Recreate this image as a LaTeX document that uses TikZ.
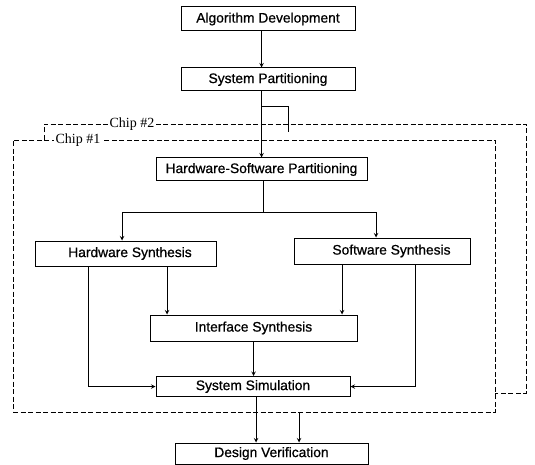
\documentclass[tikz,border=0pt]{standalone}
\usepackage{fontspec}
\usepackage{tikz}
\usetikzlibrary{arrows, positioning}
\newfontfamily\boxfont[BoldFont={Liberation Sans}, BoldFeatures={FakeBold=0.7}]{Liberation Sans}
\newfontfamily\chipfont{Liberation Serif}

\begin{document}
\begin{tikzpicture}[x=1pt, y=-1pt]
		\tikzstyle{StepName} = [rectangle, inner sep=0pt, text centered, draw=black, line width=1pt, fill=white, font=\boxfont\bfseries\fontsize{13.8}{16}\selectfont]
		\tikzstyle{ChipFrame} = [rectangle, draw=black, line width=0.9pt, dash pattern=on 5pt off 2.5pt]
		\tikzstyle{ChipName} = [fill=white, inner sep=1.5pt, font=\chipfont\fontsize{14}{16}\selectfont]
		\tikzstyle{arrow} = [line width=1pt,->,>=stealth]
		\tikzstyle{line} = [line width=1pt]
		
		\useasboundingbox (0,0) rectangle (535,465);
		
		% the two chips
		\draw[ChipFrame] (44,140) -- (44,124) -- (526,124) -- (526,393) -- (495,393);
		\node (chipOne) [ChipFrame, minimum width=482pt, minimum height=272pt] at (254,276) {};
		\node (chipTwoName) [ChipName] at (132,124) {Chip \#2};
		\node (chipOneName) [ChipName] at (78,140) {Chip \#1};
		
		\node (algDev) [StepName, minimum width=174pt, minimum height=24pt] at (268,19) {Algorithm Development};
		\node (sysPart) [StepName, minimum width=174pt, minimum height=23pt, below = 36pt of algDev] {System Partitioning};
		\node (hsPart) [StepName, minimum width=211pt, minimum height=23pt] at (261.5,169.5) {Hardware-Software Partitioning};
		
		\node (hwSyn) [StepName, minimum width=181pt, minimum height=25pt] at (125.5,253.5) {\hspace*{9pt}Hardware Synthesis};
		\node (swSyn) [StepName, minimum width=176pt, minimum height=26pt] at (382,251) {\hspace*{19pt}Software Synthesis};
		\node (ifSyn) [StepName, minimum width=207pt, minimum height=26pt] at (253.5,328) {Interface Synthesis};
		\node (sysSim) [StepName, minimum width=194pt, minimum height=20pt] at (253,386.5) {System Simulation};
		\node (desVer) [StepName, minimum width=193pt, minimum height=21pt] at (271.5,453.5) {Design Verification};
		
		\coordinate (chipTwoIn) at (288,132);
		\coordinate (split) at (263,212);
		\coordinate (chipOut) at (299,412);
		
		\draw[arrow] (hsPart.north |- algDev.south) -- (hsPart.north |- sysPart.north);
		\draw[arrow] (hsPart.north |- sysPart.south) -- (hsPart.north);
		\draw[line] (hsPart.north |- 0,107) -| (chipTwoIn);
		
		\draw[line] (hsPart.south -| split) -- (split);
		\draw[arrow] (split) -| ([xshift=-3.5pt]hwSyn.north);
		\draw[arrow] (split) -| ([xshift=-6pt]swSyn.north);
		
		\draw[arrow] ([xshift=41.5pt]hwSyn.south) -- ([xshift=41.5pt]hwSyn.south |- ifSyn.north);
		\draw[arrow] ([xshift=-40pt]swSyn.south) -- ([xshift=-40pt]swSyn.south |- ifSyn.north);
		\draw[arrow] ([xshift=-37.5pt]hwSyn.south) |- (sysSim.west);
		\draw[arrow] ([xshift=33pt]swSyn.south) |- (sysSim.east);
		\draw[arrow] (ifSyn.south) -- (ifSyn.south |- sysSim.north);
		
		\draw[arrow] ([xshift=3pt]sysSim.south) -- ([xshift=3pt]sysSim.south |- desVer.north);
		\draw[arrow] (chipOut) -- (chipOut |- desVer.north);
\end{tikzpicture}
\end{document}
